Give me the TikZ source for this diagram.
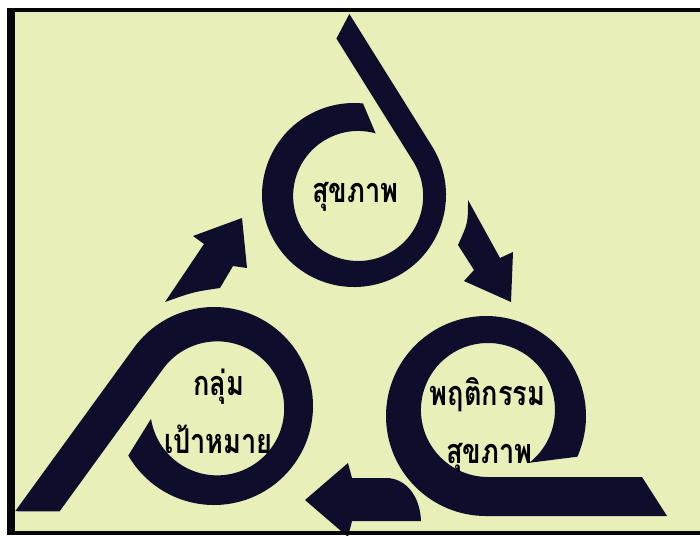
\documentclass[tikz,border=0pt]{standalone}
\usepackage{fontspec}
\newfontfamily\thaifont[Script=Thai]{Loma}
\definecolor{Paper}{HTML}{E9EFB9}
\definecolor{Band}{HTML}{0E0E2C}
\definecolor{Frame}{HTML}{060606}
\newcommand{\loopword}[1]{\scalebox{0.97}[1.22]{#1}}
\tikzset{
  loop band/.style={fill=Band},
  block arrow/.style={fill=Band},
  loop label/.style={font=\thaifont\bfseries\fontsize{28}{28}\selectfont, text=black,
    inner sep=0pt, anchor=base},
}

\begin{document}
\begin{tikzpicture}[x=1pt, y=-1pt]
  \useasboundingbox (0,0) rectangle (700,535);
  % Paper sheet behind the frame.
  \fill[white] (0,0) rectangle (700,535);
  \fill[Paper] (15,12) rectangle (700,531);

  % Loop centres.
  \coordinate (topC) at (354,195);
  \coordinate (rightC) at (486,416);
  \coordinate (leftC) at (214,406);

  % Each loop is one band: straight tail, then an open ring.
  \begin{scope}[shift={(topC)}, rotate=122]
    \fill[loop band] (156,92) -- (0,92) arc[start angle=90, end angle=397.6, radius=92]
      -- (40.8,51.0) arc[start angle=407.6, end angle=90, radius=65] -- (142,68) -- cycle;
  \end{scope}
  \begin{scope}[shift={(rightC)}]
    \fill[loop band] (181,100) -- (0,100) arc[start angle=90, end angle=384, radius=100]
      -- (43.2,46.8) arc[start angle=412, end angle=90, radius=67] -- (156,61) -- cycle;
  \end{scope}
  \begin{scope}[shift={(leftC)}, rotate=234]
    \fill[loop band] (202,99) -- (0,99) arc[start angle=90, end angle=384, radius=99]
      -- (47.4,43.4) arc[start angle=405, end angle=90, radius=67] -- (176,63) -- cycle;
  \end{scope}

  % Block arrows between the loops.
  \fill[block arrow] (242,218) -- (247,268) -- (233,266) -- (220,288)
    .. controls (193,292) .. (165,302) -- (204,244) -- (193,236) -- cycle;
  \fill[block arrow] (468,200) .. controls (468,223) .. (458,245) -- (474,270)
    -- (464,281) -- (511,302) -- (513,252) -- (500,258) -- cycle;
  \fill[block arrow] (305,500) -- (348,463) -- (352,478) -- (386,478)
    .. controls (405,478) and (420,495) .. (421,521) -- (352,521) -- (348,537) -- cycle;

  % Labels inside the loops.
  \node[loop label] (healthTop) at (355.5,202) {\loopword{สุขภาพ}};
  \node[loop label] (behaviourA) at (487.5,405) {\loopword{พฤติกรรม}};
  \node[loop label] (behaviourB) at (489.5,463) {\loopword{สุขภาพ}};
  \node[loop label] (targetA) at (219,395) {\loopword{กลุ่ม}};
  \node[loop label] (targetB) at (218.5,453) {\loopword{เป้าหมาย}};

  % Frame.
  \fill[Frame] (7,8) rectangle (700,12);
  \fill[Frame] (7,8) rectangle (15,535);
  \fill[Frame] (7,531) rectangle (700,535);
\end{tikzpicture}
\end{document}
